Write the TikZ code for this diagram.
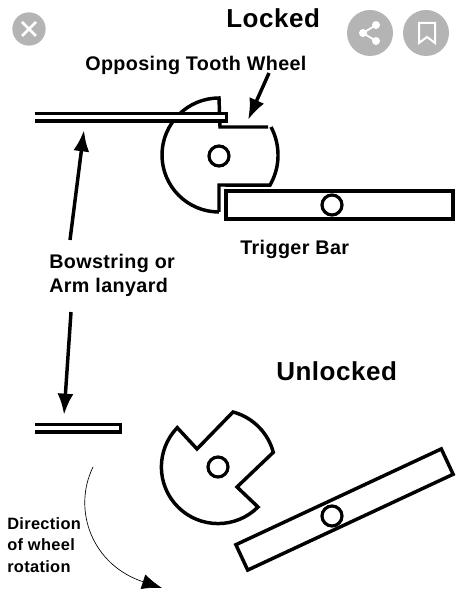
\documentclass[tikz,border=0pt]{standalone}
\usepackage{fontspec}
\setmainfont{Liberation Sans}
\newfontfamily\spacedfont[LetterSpace=2]{Liberation Sans}
\usepackage{xcolor}
\usetikzlibrary{arrows.meta,positioning}
\definecolor{iconGray}{HTML}{B4B4B4}
\begin{document}
\begin{tikzpicture}[
    x=0.75pt,y=0.75pt,
    heavy/.style={font=\spacedfont\bfseries\fontsize{19.5}{24}\selectfont,inner sep=0pt,anchor=base west},
    label/.style={font=\spacedfont\bfseries\fontsize{14.8}{18}\selectfont,inner sep=0pt,align=left},
    small/.style={font=\spacedfont\bfseries\fontsize{12.3}{16}\selectfont,inner sep=0pt,align=left},
    wheel/.style={draw,line width=2.6pt,line join=miter},
    pin/.style={circle,draw,fill=white,line width=2.4pt,minimum size=15pt,inner sep=0pt},
    bar/.style={draw,fill=white,line width=2.6pt,minimum width=170pt,minimum height=21pt,inner sep=0pt},
    string/.style={draw,fill=white,line width=2.6pt},
    arrow/.style={-{Latex[length=16pt,width=12pt]},line width=2.6pt},
    thinarrow/.style={-{Latex[length=15pt,width=11.5pt]},line width=0.5pt},
    badge/.style={circle,fill=iconGray,inner sep=0pt},
    glyph/.style={draw=white,line width=1.9pt}
  ]
    \useasboundingbox[fill=white] (0,0) rectangle (460,600);
    % badges
    \node[badge,minimum size=25pt] (closeBadge) at (29,571) {};
    \node[badge,minimum size=34.5pt] (shareBadge) at (370,567) {};
    \node[badge,minimum size=34.5pt] (saveBadge) at (426,567) {};
    \draw[glyph] (22,578) -- (36,564) (22,564) -- (36,578);
    \draw[glyph,line width=1.4pt] (376,575) -- (363,567) -- (376,559);
    \fill[white] (376,575) circle (4) (363,567) circle (4) (376,559) circle (4);
    \draw[glyph,line width=1.5pt] (419,577) -- (435,577) -- (435,557) -- (427,563) -- (419,557) -- cycle;
    % locked
    \node[heavy] (lockedTitle) at (226,572) {Locked};
    \node[label,anchor=base west] (toothLabel) at (85,529) {Opposing Tooth Wheel};
    \coordinate (lockHub) at (219,444);
    \draw[wheel] (219,388) arc[start angle=270,end angle=90,radius=57]
      -- (220,473) -- (268,473);
    \draw[wheel] (271,473) arc[start angle=28,end angle=-30,radius=60] -- (219,415) -- (219,388);
    \draw[string] (35,486.5) -- (226.5,486.5) -- (226.5,479) -- (35,479);
    \node[pin] (lockPin) at (lockHub) {};
    \node[bar] (lockBar) at (339.5,395) {};
    \node[pin] (lockBarPin) at (332,395) {};
    \node[label,anchor=base west] (barLabel) at (240,345) {Trigger Bar};
    \coordinate (toothTail) at (269,527);
    \coordinate (toothTip) at (248,480);
    \draw[arrow] (toothTail) -- (toothTip);
    % shared label
    \node[label,anchor=north west] (bowLabel) at (49,346.5) {Bowstring or\\Arm lanyard};
    \coordinate (bowUpTail) at (70,360);
    \coordinate (bowUpTip) at (84,470);
    \coordinate (bowDownTail) at (71,288);
    \coordinate (bowDownTip) at (64,185);
    \draw[arrow] (bowUpTail) -- (bowUpTip);
    \draw[arrow] (bowDownTail) -- (bowDownTip);
    % unlocked
    \node[heavy] (unlockedTitle) at (276,219) {Unlocked};
    \draw[string] (35,175.5) -- (120.5,175.5) -- (120.5,168) -- (35,168);
    \coordinate (openHub) at (218,133);
    \draw[wheel] (258,93) arc[start angle=-45,end angle=-224,radius=56.6]
      -- (197,151) -- (233,188) arc[start angle=75,end angle=15,radius=57]
      -- (237,113) -- cycle;
    \node[pin] (openPin) at (openHub) {};
    \node[bar,rotate=25] (openBar) at (344.5,90.5) {};
    \node[pin] (openBarPin) at (332,84) {};
    \node[small,anchor=north west] (turnLabel) at (7,82.5) {Direction\\of wheel\\rotation};
    \coordinate (turnTail) at (93,133);
    \coordinate (turnTip) at (162,12);
    \draw[thinarrow] (turnTail) .. controls (72,90) and (92,35) .. (turnTip);
  \end{tikzpicture}
\end{document}
